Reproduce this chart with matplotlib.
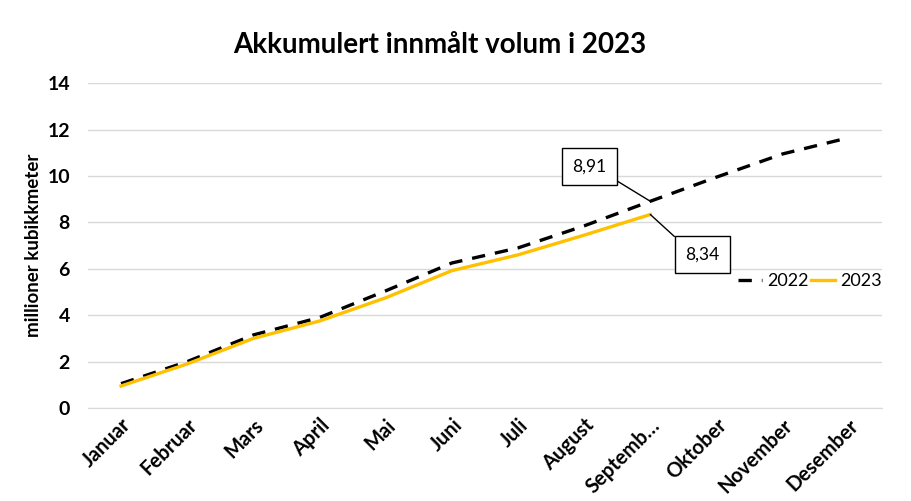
import matplotlib
matplotlib.use("Agg")
import matplotlib.pyplot as plt

months = ["Januar", "Februar", "Mars", "April", "Mai", "Juni", "Juli", "August",
          "Septemb…", "Oktober", "November", "Desember"]
v2022 = [1.05, 2.0, 3.15, 3.9, 5.05, 6.25, 6.9, 7.85, 8.91, 9.95, 10.95, 11.65]
v2023 = [0.95, 1.9, 3.0, 3.75, 4.75, 5.92, 6.6, 7.45, 8.34]
label_2022 = "8,91"
label_2023 = "8,34"
yticks = [0, 2, 4, 6, 8, 10, 12, 14]

plt.rcParams['font.family'] = ['Lato', 'DejaVu Sans']

fig = plt.figure(figsize=(9.11, 5.01), dpi=100)
ax = fig.add_axes([0.0966, 0.1856, 0.8714, 0.6484])

x = list(range(len(months)))
ax.plot(x, v2022, color='black', lw=2.4, ls=(0, (4, 3)), label='2022', zorder=3)
ax.plot(x[:len(v2023)], v2023, color='#FFC000', lw=2.4, label='2023', zorder=3)

ax.set_xlim(-0.5, len(months) - 0.5)
ax.set_ylim(0, 14)
ax.set_yticks(yticks)
ax.set_yticklabels([str(t) for t in yticks], fontsize=14, fontweight='bold')
ax.set_xticks(x)
ax.set_xticklabels(months, rotation=45, ha='right', rotation_mode='anchor',
                   fontsize=14.5, fontweight='bold')
ax.tick_params(axis='x', length=0, pad=5)
ax.tick_params(axis='y', length=0, pad=13)
ax.grid(axis='y', color='#d9d9d9', lw=1)
ax.set_axisbelow(True)
for s in ['top', 'right', 'left']:
    ax.spines[s].set_visible(False)
ax.spines['bottom'].set_color('#d9d9d9')

ax.set_ylabel('millioner kubikkmeter', fontsize=13.5, fontweight='bold', labelpad=4)
fig.text(0.483, 0.91, 'Akkumulert innmålt volum i 2023', ha='center', va='center',
         fontsize=20, fontweight='bold')

bbox = dict(boxstyle='square,pad=0.6', fc='white', ec='black', lw=1)
i22 = 8
ax.annotate(label_2022, xy=(i22, v2022[i22]), xytext=(-3.5, 2.0), textcoords='offset fontsize',
            fontsize=12.5, ha='center', va='center', bbox=bbox,
            arrowprops=dict(arrowstyle='-', color='black', lw=1, shrinkA=0, shrinkB=0,
                            relpos=(1, 0)))
ax.annotate(label_2023, xy=(i22, v2023[i22]), xytext=(3.0, -2.3), textcoords='offset fontsize',
            fontsize=12.5, ha='center', va='center', bbox=bbox,
            arrowprops=dict(arrowstyle='-', color='black', lw=1, shrinkA=0, shrinkB=0,
                            relpos=(0, 1)))

leg = ax.legend(loc='center right', bbox_to_anchor=(1.0, 0.39), ncol=2, frameon=False,
                fontsize=13, handlelength=1.3, handletextpad=0.3, columnspacing=0.15,
                borderpad=0, borderaxespad=0)

fig.savefig('out.png', dpi=100)
